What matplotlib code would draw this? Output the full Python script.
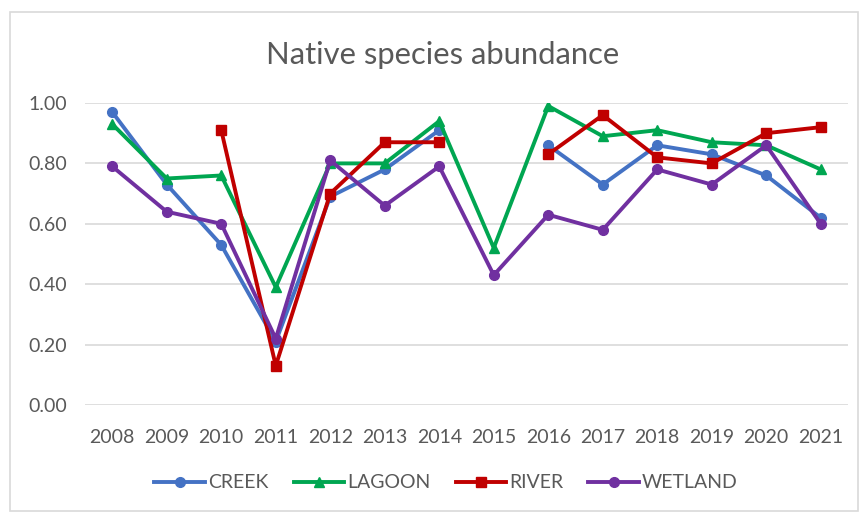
import numpy as np
import matplotlib
matplotlib.use("Agg")
import matplotlib.pyplot as plt
from matplotlib.patches import Rectangle

years = ["2008", "2009", "2010", "2011", "2012", "2013", "2014",
         "2015", "2016", "2017", "2018", "2019", "2020", "2021"]
nan = np.nan
creek = [0.97, 0.73, 0.53, 0.21, 0.69, 0.78, 0.91, nan, 0.86, 0.73, 0.86, 0.83, 0.76, 0.62]
lagoon = [0.93, 0.75, 0.76, 0.39, 0.80, 0.80, 0.94, 0.52, 0.99, 0.89, 0.91, 0.87, 0.86, 0.78]
river = [nan, nan, 0.91, 0.13, 0.70, 0.87, 0.87, nan, 0.83, 0.96, 0.82, 0.80, 0.90, 0.92]
wetland = [0.79, 0.64, 0.60, 0.22, 0.81, 0.66, 0.79, 0.43, 0.63, 0.58, 0.78, 0.73, 0.86, 0.60]

series = [
    ("CREEK", creek, "#4472C4", "o", 7),
    ("LAGOON", lagoon, "#00A651", "^", 7),
    ("RIVER", river, "#C00000", "s", 7),
    ("WETLAND", wetland, "#7030A0", "o", 7),
]

plt.rcParams["font.family"] = ["Lato", "DejaVu Sans"]
text_col = "#595959"

fig = plt.figure(figsize=(8.63, 5.13), dpi=100)
fig.patch.set_facecolor("white")
fig.patches.append(Rectangle((10 / 863, 1 - 511 / 513), 848 / 863, 499 / 513,
                             transform=fig.transFigure, fill=False,
                             edgecolor="#D9D9D9", linewidth=1.2))

ax = fig.add_axes([85 / 863, 1 - 405 / 513, 763 / 863, 302 / 513])
x = np.arange(len(years))
for name, vals, col, mk, ms in series:
    ax.plot(x, vals, color=col, linewidth=2.8, marker=mk, markersize=ms,
            label=name, solid_joinstyle="round", zorder=3)

ax.set_xlim(-0.5, len(years) - 0.5)
ax.set_ylim(0, 1.0)
ax.set_yticks(np.arange(0, 1.01, 0.2))
ax.set_yticklabels([f"{v:.2f}" for v in np.arange(0, 1.01, 0.2)])
ax.set_xticks(x)
ax.set_xticklabels(years)
ax.tick_params(axis="both", length=0, labelsize=14, labelcolor=text_col)
ax.tick_params(axis="y", pad=13)
ax.tick_params(axis="x", pad=17)
ax.grid(axis="y", color="#D9D9D9", linewidth=1.2, zorder=0)
ax.set_axisbelow(True)
for s in ax.spines.values():
    s.set_visible(False)

fig.text(443 / 863, 1 - 55 / 513, "Native species abundance", ha="center",
         va="center", fontsize=22.3, color=text_col)

fig.legend(loc="center", bbox_to_anchor=(446 / 863, 1 - 483 / 513), ncol=4,
           frameon=False, fontsize=14, labelcolor=text_col, handlelength=2.6,
           handletextpad=0.15, columnspacing=1.3)

fig.savefig("out.png", dpi=100)
